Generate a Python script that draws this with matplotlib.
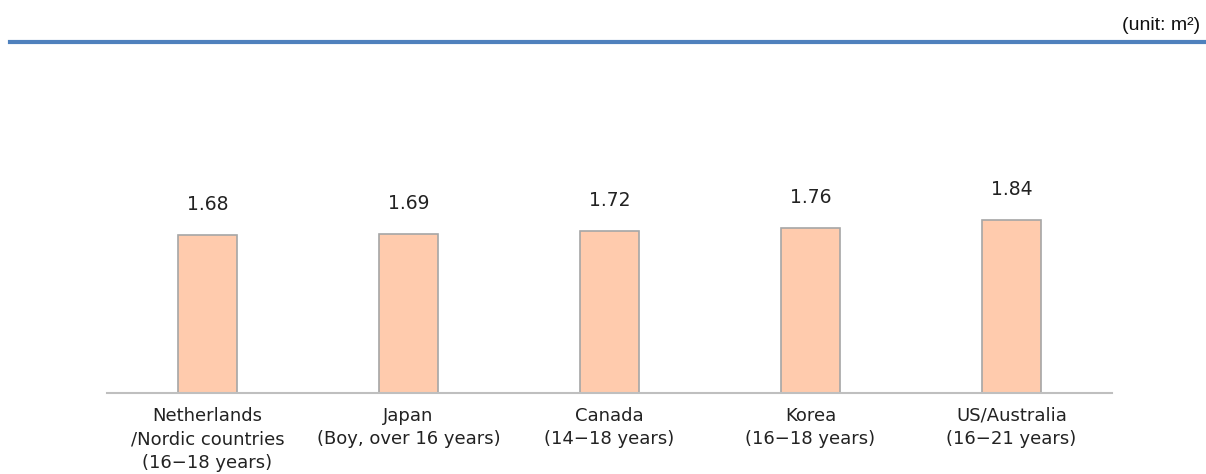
import matplotlib.pyplot as plt
from matplotlib.lines import Line2D

categories = ["Netherlands\n/Nordic countries\n(16\u221218 years)",
              "Japan\n(Boy, over 16 years)",
              "Canada\n(14\u221218 years)",
              "Korea\n(16\u221218 years)",
              "US/Australia\n(16\u221221 years)"]
values = [1.68, 1.69, 1.72, 1.76, 1.84]

plt.rcParams['font.family'] = ['DejaVu Sans']

fig = plt.figure(figsize=(12.06, 4.74), dpi=100)
ax = fig.add_axes([107/1206, 81/474, 1005/1206, 282/474])

x = range(len(values))
bars = ax.bar(x, values, width=0.29, color="#FFCBAD", edgecolor="#A6A6A6", linewidth=1.2)
ax.set_xlim(-0.5, len(values) - 0.5)
ax.set_ylim(0, 3.0)

for b, v in zip(bars, values):
    ax.annotate(f"{v:.2f}", (b.get_x() + b.get_width() / 2, v), xytext=(0, 15),
                textcoords="offset points", ha="center", va="bottom",
                fontsize=13.5, color="#222222")

ax.set_xticks(list(x))
ax.set_xticklabels(categories, fontsize=13, color="#222222", linespacing=1.4)
ax.tick_params(axis="x", length=0, pad=10)
ax.set_yticks([])
for s in ["top", "right", "left"]:
    ax.spines[s].set_visible(False)
ax.spines["bottom"].set_color("#BFBFBF")
ax.spines["bottom"].set_linewidth(1.5)

# header rule and unit note
fig.add_artist(Line2D([10/1206, 1.0], [1 - 42/474, 1 - 42/474], color="#4F81BD", linewidth=3,
                      transform=fig.transFigure))
fig.text(1200/1206, 1 - 26/474, "(unit: m\u00b2)", ha="right", va="center", fontsize=14,
         family=["Liberation Sans Narrow", "Liberation Sans", "DejaVu Sans"], color="#111111")

fig.savefig("out.png", dpi=100)
